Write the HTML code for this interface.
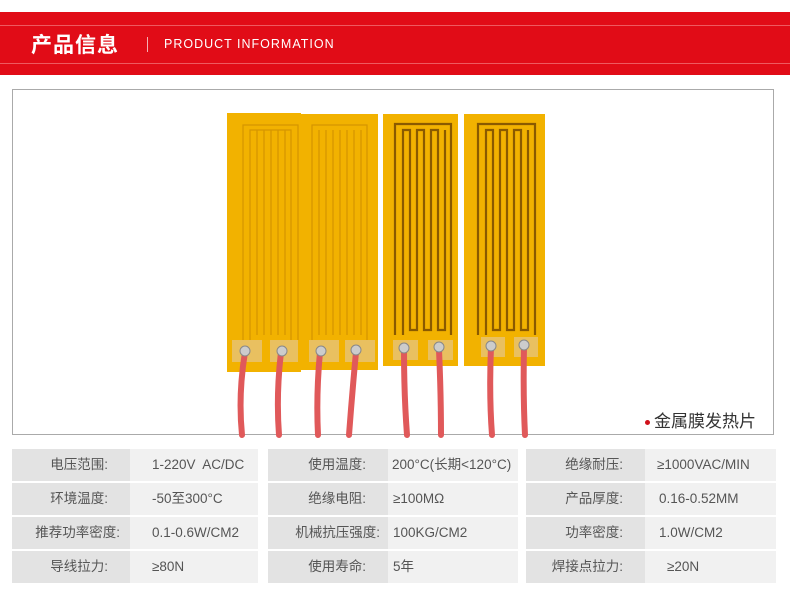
<!DOCTYPE html>
<html><head><meta charset="utf-8"><style>
body{margin:0;width:790px;height:592px;background:#fff;position:relative;overflow:hidden;font-family:"Liberation Sans","Noto Sans CJK SC",sans-serif}
.band{position:absolute;left:0;top:12px;width:790px;height:63px;background:#e10c17}
.l1{position:absolute;left:0;top:25px;width:790px;height:1px;background:#ee5a60}
.l2{position:absolute;left:0;top:63px;width:790px;height:1px;background:#ee5a60}
.t1{position:absolute;left:31px;top:29px;color:#fff;font-size:21px;letter-spacing:1px;font-weight:bold}
.sep{position:absolute;left:147px;top:37px;width:1px;height:15px;background:#f6b0b3}
.t2{position:absolute;left:164px;top:37px;color:#fff;font-size:12.5px;letter-spacing:1px}
.frame{position:absolute;left:12px;top:89px;width:762px;height:346px;border:1px solid #aaa;box-sizing:border-box}
.cap{position:absolute;left:645px;top:407px;font-size:17px;color:#333}
.cap b{display:inline-block;width:5px;height:5px;border-radius:50%;background:#d0101a;vertical-align:middle;margin-right:4px}
.c{position:absolute;height:32px;line-height:32px;font-size:13.5px;color:#555}
.lb{background:#e3e3e3;text-align:right;box-sizing:border-box;padding-right:22px}
.vl{background:#f1f1f1;padding-left:22px;box-sizing:border-box}
</style></head><body>
<div class="band"></div><div class="l1"></div><div class="l2"></div>
<div class="t1">产品信息</div><div class="sep"></div><div class="t2">PRODUCT INFORMATION</div>
<div class="frame"></div>
<svg style="position:absolute;left:0;top:0" width="790" height="440">
<g fill="#f2b200">
<rect x="227" y="113" width="74" height="259"/><rect x="301" y="114" width="77" height="256"/>
<rect x="383" y="114" width="75" height="252"/><rect x="464" y="114" width="81" height="252"/>
</g>
<g fill="none" stroke="#c98a00" stroke-width="1.2" opacity=".7">
<path d="M243 340V125h55v215M250 340V130h41v210M257 130v205M264 130v205M271 130v205M278 130v205M285 130v205"/>
<path d="M312 340V125h55v215M319 130v205M326 130v205M333 130v205M340 130v205M347 130v205M354 130v205M361 130v205"/>
</g>
<g fill="none" stroke="#8a5a00" stroke-width="2.2">
<path d="M395 335V124h56v211M403 335V130h7v200h7V130h7v200h7V130h7v200h7V130"/>
<path d="M478 335V124h57v211M486 335V130h7v200h7V130h7v200h7V130h7v200h7V130"/>
</g>
<g fill="#e9c060"><rect x="232" y="340" width="30" height="22"/><rect x="270" y="340" width="28" height="22"/><rect x="309" y="340" width="30" height="22"/><rect x="345" y="340" width="30" height="22"/><rect x="393" y="340" width="25" height="20"/><rect x="428" y="340" width="25" height="20"/><rect x="481" y="337" width="24" height="20"/><rect x="514" y="337" width="24" height="20"/></g>
<g stroke="#e0595a" stroke-width="6" fill="none" stroke-linecap="round">
<path d="M245 352Q238 395 242 435"/><path d="M281 352Q276 395 279 435"/><path d="M320 352Q316 395 318 435"/><path d="M356 352Q352 395 349 435"/>
<path d="M404 350Q404 395 407 435"/><path d="M439 350Q441 395 441 435"/><path d="M491 347Q489 395 492 435"/><path d="M524 347Q523 395 525 435"/>
</g>
<g fill="#ccc" stroke="#888"><circle cx="245" cy="351" r="5"/><circle cx="282" cy="351" r="5"/><circle cx="321" cy="351" r="5"/><circle cx="356" cy="350" r="5"/><circle cx="404" cy="348" r="5"/><circle cx="439" cy="347" r="5"/><circle cx="491" cy="346" r="5"/><circle cx="524" cy="345" r="5"/></g>
</svg>
<div class="cap"><b></b>金属膜发热片</div>
<div class="c lb" style="left:12px;top:449px;width:118px">电压范围:</div><div class="c vl" style="left:130px;top:449px;width:128px">1-220V&nbsp; AC/DC</div>
<div class="c lb" style="left:12px;top:483px;width:118px">环境温度:</div><div class="c vl" style="left:130px;top:483px;width:128px">-50至300°C</div>
<div class="c lb" style="left:12px;top:517px;width:118px;padding-right:10px">推荐功率密度:</div><div class="c vl" style="left:130px;top:517px;width:128px">0.1-0.6W/CM2</div>
<div class="c lb" style="left:12px;top:551px;width:118px">导线拉力:</div><div class="c vl" style="left:130px;top:551px;width:128px">≥80N</div>
<div class="c lb" style="left:268px;top:449px;width:120px">使用温度:</div><div class="c vl" style="left:388px;top:449px;width:130px;padding-left:4px">200°C(长期&lt;120°C)</div>
<div class="c lb" style="left:268px;top:483px;width:120px">绝缘电阻:</div><div class="c vl" style="left:388px;top:483px;width:130px;padding-left:5px">≥100MΩ</div>
<div class="c lb" style="left:268px;top:517px;width:120px;padding-right:8px">机械抗压强度:</div><div class="c vl" style="left:388px;top:517px;width:130px;padding-left:5px">100KG/CM2</div>
<div class="c lb" style="left:268px;top:551px;width:120px">使用寿命:</div><div class="c vl" style="left:388px;top:551px;width:130px;padding-left:5px">5年</div>
<div class="c lb" style="left:526px;top:449px;width:119px">绝缘耐压:</div><div class="c vl" style="left:645px;top:449px;width:131px;padding-left:12px">≥1000VAC/MIN</div>
<div class="c lb" style="left:526px;top:483px;width:119px">产品厚度:</div><div class="c vl" style="left:645px;top:483px;width:131px;padding-left:14px">0.16-0.52MM</div>
<div class="c lb" style="left:526px;top:517px;width:119px">功率密度:</div><div class="c vl" style="left:645px;top:517px;width:131px;padding-left:14px">1.0W/CM2</div>
<div class="c lb" style="left:526px;top:551px;width:119px">焊接点拉力:</div><div class="c vl" style="left:645px;top:551px;width:131px;padding-left:22px">≥20N</div>
</body></html>
